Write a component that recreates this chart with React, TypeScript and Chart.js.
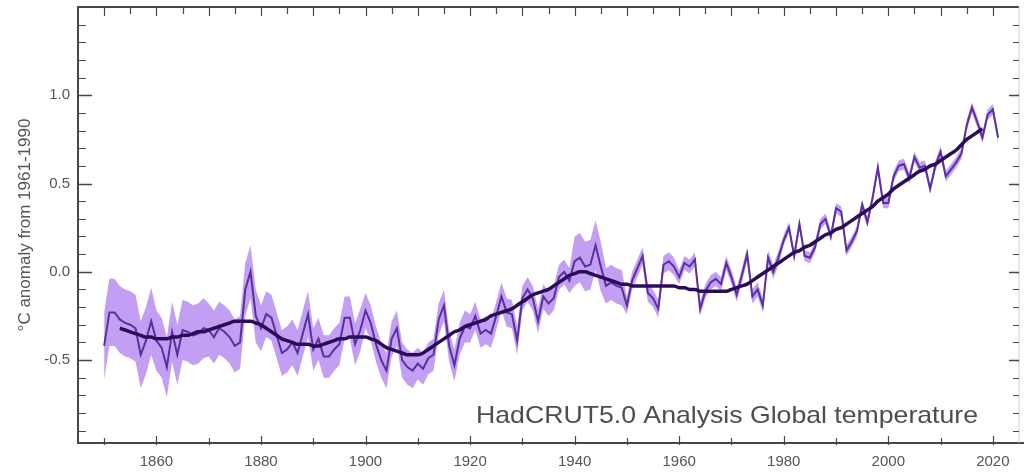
import React, { useEffect, useRef } from 'react';
import { Chart, registerables } from 'chart.js';

Chart.register(...registerables);

const FIRST_YEAR = 1850;
const SMOOTH_FIRST_YEAR = 1853;

// Annual global mean anomaly (°C, vs 1961-1990), 1850..2021
const annual = [
  -0.42, -0.23, -0.23, -0.27, -0.29, -0.30, -0.32, -0.47, -0.39, -0.28,
  -0.39, -0.43, -0.54, -0.34, -0.47, -0.33, -0.34, -0.36, -0.35, -0.32,
  -0.33, -0.37, -0.32, -0.34, -0.37, -0.42, -0.40, -0.10, 0.00, -0.25,
  -0.32, -0.24, -0.26, -0.36, -0.46, -0.44, -0.40, -0.46, -0.35, -0.24,
  -0.44, -0.38, -0.48, -0.48, -0.44, -0.41, -0.26, -0.26, -0.41, -0.33,
  -0.22, -0.29, -0.41, -0.50, -0.56, -0.38, -0.32, -0.50, -0.54, -0.56,
  -0.52, -0.55, -0.49, -0.47, -0.27, -0.19, -0.42, -0.53, -0.38, -0.31,
  -0.32, -0.25, -0.35, -0.33, -0.35, -0.25, -0.14, -0.23, -0.24, -0.39,
  -0.15, -0.10, -0.15, -0.28, -0.14, -0.18, -0.15, -0.03, 0.00, -0.05,
  0.06, 0.08, 0.03, 0.04, 0.15, 0.03, -0.08, -0.06, -0.08, -0.09,
  -0.19, -0.05, 0.02, 0.09, -0.12, -0.15, -0.21, 0.04, 0.06, 0.03,
  -0.03, 0.05, 0.03, 0.07, -0.21, -0.11, -0.06, -0.04, -0.07, 0.05,
  -0.03, -0.13, -0.02, 0.10, -0.14, -0.10, -0.19, 0.08, 0.00, 0.08,
  0.18, 0.25, 0.09, 0.27, 0.09, 0.08, 0.14, 0.27, 0.30, 0.20,
  0.36, 0.34, 0.12, 0.17, 0.23, 0.38, 0.28, 0.42, 0.59, 0.39,
  0.39, 0.54, 0.60, 0.61, 0.53, 0.65, 0.59, 0.60, 0.47, 0.60,
  0.68, 0.54, 0.58, 0.62, 0.67, 0.83, 0.93, 0.85, 0.76, 0.89,
  0.92, 0.76,
];

// Lower edge of the uncertainty band, 1850..2021
const lower = [
  -0.61, -0.42, -0.42, -0.46, -0.48, -0.49, -0.51, -0.66, -0.58, -0.47,
  -0.56, -0.60, -0.71, -0.51, -0.64, -0.50, -0.51, -0.53, -0.52, -0.49,
  -0.48, -0.52, -0.47, -0.49, -0.52, -0.57, -0.55, -0.25, -0.15, -0.40,
  -0.45, -0.37, -0.39, -0.49, -0.59, -0.57, -0.53, -0.59, -0.48, -0.37,
  -0.56, -0.50, -0.60, -0.60, -0.56, -0.53, -0.38, -0.38, -0.53, -0.45,
  -0.32, -0.39, -0.51, -0.60, -0.66, -0.48, -0.42, -0.60, -0.64, -0.66,
  -0.61, -0.64, -0.58, -0.56, -0.36, -0.28, -0.51, -0.62, -0.47, -0.40,
  -0.40, -0.33, -0.43, -0.41, -0.43, -0.33, -0.22, -0.31, -0.32, -0.47,
  -0.22, -0.17, -0.22, -0.35, -0.21, -0.25, -0.22, -0.10, -0.07, -0.12,
  -0.08, -0.06, -0.11, -0.10, 0.01, -0.11, -0.18, -0.16, -0.18, -0.19,
  -0.24, -0.10, -0.03, 0.04, -0.17, -0.20, -0.26, -0.01, 0.01, -0.02,
  -0.07, 0.01, -0.01, 0.03, -0.25, -0.15, -0.10, -0.08, -0.11, 0.01,
  -0.07, -0.17, -0.06, 0.06, -0.18, -0.14, -0.23, 0.04, -0.04, 0.04,
  0.15, 0.22, 0.06, 0.24, 0.06, 0.05, 0.11, 0.24, 0.27, 0.17,
  0.33, 0.31, 0.09, 0.14, 0.20, 0.35, 0.25, 0.39, 0.56, 0.36,
  0.36, 0.51, 0.57, 0.58, 0.50, 0.62, 0.56, 0.57, 0.44, 0.57,
  0.65, 0.51, 0.55, 0.59, 0.64, 0.80, 0.90, 0.82, 0.73, 0.86,
  0.89, 0.73,
];

// Upper edge of the uncertainty band, 1850..2021
const upper = [
  -0.23, -0.04, -0.04, -0.08, -0.10, -0.11, -0.13, -0.28, -0.20, -0.09,
  -0.22, -0.26, -0.37, -0.17, -0.30, -0.16, -0.17, -0.19, -0.18, -0.15,
  -0.18, -0.22, -0.17, -0.19, -0.22, -0.27, -0.25, 0.05, 0.15, -0.10,
  -0.19, -0.11, -0.13, -0.23, -0.33, -0.31, -0.27, -0.33, -0.22, -0.11,
  -0.32, -0.26, -0.36, -0.36, -0.32, -0.29, -0.14, -0.14, -0.29, -0.21,
  -0.12, -0.19, -0.31, -0.40, -0.46, -0.28, -0.22, -0.40, -0.44, -0.46,
  -0.43, -0.46, -0.40, -0.38, -0.18, -0.10, -0.33, -0.44, -0.29, -0.22,
  -0.24, -0.17, -0.27, -0.25, -0.27, -0.17, -0.06, -0.15, -0.16, -0.31,
  -0.08, -0.03, -0.08, -0.21, -0.07, -0.11, -0.08, 0.04, 0.07, 0.02,
  0.20, 0.22, 0.17, 0.18, 0.29, 0.17, 0.02, 0.04, 0.02, 0.01,
  -0.14, 0.00, 0.07, 0.14, -0.07, -0.10, -0.16, 0.09, 0.11, 0.08,
  0.01, 0.09, 0.07, 0.11, -0.17, -0.07, -0.02, 0.00, -0.03, 0.09,
  0.01, -0.09, 0.02, 0.14, -0.10, -0.06, -0.15, 0.12, 0.04, 0.12,
  0.21, 0.28, 0.12, 0.30, 0.12, 0.11, 0.17, 0.30, 0.33, 0.23,
  0.39, 0.37, 0.15, 0.20, 0.26, 0.41, 0.31, 0.45, 0.62, 0.42,
  0.42, 0.57, 0.63, 0.64, 0.56, 0.68, 0.62, 0.63, 0.50, 0.63,
  0.71, 0.57, 0.61, 0.65, 0.70, 0.86, 0.96, 0.88, 0.79, 0.92,
  0.95, 0.79,
];

// Smoothed series, 1853..2018
const smoothed = [
  -0.32, -0.33, -0.34, -0.35, -0.36, -0.37, -0.37,
  -0.38, -0.38, -0.38, -0.37, -0.37, -0.36, -0.36, -0.35, -0.34, -0.34,
  -0.33, -0.32, -0.31, -0.30, -0.29, -0.28, -0.28, -0.28, -0.28, -0.29,
  -0.30, -0.32, -0.34, -0.36, -0.38, -0.39, -0.40, -0.41, -0.41, -0.41,
  -0.42, -0.42, -0.41, -0.40, -0.39, -0.38, -0.38, -0.37, -0.37, -0.37,
  -0.37, -0.38, -0.39, -0.41, -0.43, -0.44, -0.45, -0.46, -0.47, -0.47,
  -0.47, -0.46, -0.44, -0.42, -0.40, -0.38, -0.36, -0.34, -0.33, -0.31,
  -0.30, -0.29, -0.28, -0.27, -0.25, -0.24, -0.23, -0.22, -0.21, -0.19,
  -0.17, -0.15, -0.13, -0.12, -0.11, -0.10, -0.08, -0.06, -0.04, -0.02,
  -0.01, 0.00, 0.00, -0.01, -0.02, -0.03, -0.04, -0.05, -0.06, -0.07,
  -0.07, -0.08, -0.08, -0.08, -0.08, -0.08, -0.08, -0.08, -0.08, -0.08,
  -0.09, -0.09, -0.10, -0.10, -0.11, -0.11, -0.11, -0.11, -0.11, -0.11,
  -0.10, -0.09, -0.08, -0.07, -0.05, -0.03, -0.01, 0.01, 0.03, 0.05,
  0.07, 0.09, 0.11, 0.12, 0.14, 0.15, 0.17, 0.19, 0.21, 0.22,
  0.24, 0.25, 0.27, 0.29, 0.31, 0.33, 0.35, 0.37, 0.40, 0.42,
  0.44, 0.47, 0.49, 0.51, 0.53, 0.55, 0.57, 0.58, 0.60, 0.61,
  0.63, 0.65, 0.67, 0.69, 0.72, 0.75, 0.77, 0.79, 0.81,
];

const xTickLabels = [1860, 1880, 1900, 1920, 1940, 1960, 1980, 2000, 2020];
const yTickLabels = [-0.5, 0.0, 0.5, 1.0];
const yAxisTitle = '°C anomaly from 1961-1990';
const chartCaption = 'HadCRUT5.0 Analysis Global temperature';

const X_MIN = 1845;
const X_MAX = 2025;
const Y_MIN = -0.97;
const Y_MAX = 1.5;

const AXIS_COLOR = '#474747';
const TEXT_COLOR = '#555555';
const FONT = '"Liberation Sans", Arial, sans-serif';

const framePlugin = {
  id: 'frameTicks',
  afterDraw(chart: any) {
    const { ctx, chartArea: a, scales } = chart;
    const x = scales.x;
    const y = scales.y;
    ctx.save();
    // frame
    ctx.strokeStyle = AXIS_COLOR;
    ctx.lineWidth = 2;
    ctx.beginPath();
    ctx.moveTo(a.right, a.top);
    ctx.lineTo(a.left, a.top);
    ctx.lineTo(a.left, a.bottom);
    ctx.lineTo(a.right + 6, a.bottom);
    ctx.stroke();
    ctx.strokeStyle = '#d0d0d0';
    ctx.lineWidth = 1;
    ctx.beginPath();
    ctx.moveTo(a.right, a.top);
    ctx.lineTo(a.right, a.bottom);
    ctx.stroke();

    // y ticks (left & right), every 0.1, longer every 0.5
    ctx.strokeStyle = AXIS_COLOR;
    for (let k = -9; k <= 14; k++) {
      const py = Math.round(y.getPixelForValue(k / 10)) + 0.5;
      const major = k % 5 === 0;
      ctx.lineWidth = major ? 1.5 : 1.2;
      ctx.beginPath();
      ctx.moveTo(a.left, py);
      ctx.lineTo(a.left + (major ? 14 : 8), py);
      ctx.moveTo(a.right, py);
      ctx.lineTo(a.right - (major ? 10 : 6), py);
      ctx.stroke();
    }
    // x ticks bottom every 10 years, top every 5 years
    ctx.lineWidth = 1.2;
    for (let yr = 1850; yr <= 2020; yr += 5) {
      const px = Math.round(x.getPixelForValue(yr)) + 0.5;
      ctx.beginPath();
      ctx.moveTo(px, a.top);
      ctx.lineTo(px, a.top + (yr % 10 === 0 ? 9 : 7));
      if (yr % 10 === 0) {
        ctx.moveTo(px, a.bottom + 2);
        ctx.lineTo(px, a.bottom - (yr % 20 === 0 ? 7 : 5));
      }
      ctx.stroke();
    }

    // caption
    ctx.fillStyle = '#4d4d4d';
    ctx.font = `24px ${FONT}`;
    ctx.textAlign = 'right';
    ctx.textBaseline = 'alphabetic';
    ctx.translate(978, 423);
    ctx.scale(1.11, 1);
    ctx.fillText(chartCaption, 0, 0);
    ctx.restore();
  },
};

export default function App() {
  const canvasRef = useRef<HTMLCanvasElement | null>(null);

  useEffect(() => {
    if (!canvasRef.current) return;
    const years = annual.map((_, i) => FIRST_YEAR + i);
    const pts = (arr: number[], start: number) => arr.map((v, i) => ({ x: start + i, y: v }));

    const chart = new Chart(canvasRef.current, {
      type: 'line',
      data: {
        datasets: [
          {
            label: 'lower',
            data: pts(lower, FIRST_YEAR),
            borderWidth: 0,
            pointRadius: 0,
            fill: false,
            order: 3,
          },
          {
            label: 'uncertainty',
            data: pts(upper, FIRST_YEAR),
            borderWidth: 0,
            pointRadius: 0,
            backgroundColor: 'rgba(172, 122, 240, 0.72)',
            fill: '-1',
            order: 2,
          },
          {
            label: 'annual',
            data: years.map((yr, i) => ({ x: yr, y: annual[i] })),
            borderColor: '#5b2f9e',
            borderWidth: 2,
            pointRadius: 0,
            tension: 0,
            fill: false,
            order: 1,
          },
          {
            label: 'smoothed',
            data: pts(smoothed, SMOOTH_FIRST_YEAR),
            borderColor: '#2b0c58',
            borderWidth: 3.5,
            pointRadius: 0,
            tension: 0.4,
            cubicInterpolationMode: 'monotone',
            fill: false,
            order: 0,
          },
        ],
      },
      options: {
        animation: false,
        responsive: true,
        maintainAspectRatio: false,
        layout: { padding: { top: 7, right: 5, left: 0, bottom: 0 } },
        plugins: {
          legend: { display: false },
          tooltip: { enabled: false },
        },
        scales: {
          x: {
            type: 'linear',
            min: X_MIN,
            max: X_MAX,
            grid: { display: false, drawTicks: false },
            border: { display: false },
            afterBuildTicks: (scale: any) => {
              scale.ticks = xTickLabels.map((v) => ({ value: v }));
            },
            afterFit: (scale: any) => {
              scale.height = 32;
              scale.paddingLeft = 0;
              scale.paddingRight = 0;
            },
            ticks: {
              color: TEXT_COLOR,
              font: { family: FONT, size: 15 },
              padding: 10,
              maxRotation: 0,
              autoSkip: false,
              callback: (v: any) => String(v),
            },
          },
          y: {
            type: 'linear',
            min: Y_MIN,
            max: Y_MAX,
            grid: { display: false, drawTicks: false },
            border: { display: false },
            afterBuildTicks: (scale: any) => {
              scale.ticks = yTickLabels.map((v) => ({ value: v }));
            },
            afterFit: (scale: any) => {
              scale.width = 78;
              scale.paddingTop = 0;
              scale.paddingBottom = 0;
            },
            title: {
              display: true,
              text: yAxisTitle,
              color: TEXT_COLOR,
              font: { family: FONT, size: 17 },
              padding: { top: 15, bottom: 0 },
            },
            ticks: {
              color: TEXT_COLOR,
              font: { family: FONT, size: 15 },
              padding: 8,
              callback: (v: any) => Number(v).toFixed(1),
            },
          },
        },
      },
      plugins: [framePlugin],
    } as any);

    return () => chart.destroy();
  }, []);

  return (
    <div style={{ position: 'absolute', left: 0, top: 0, width: 1024, height: 475, background: '#fff' }}>
      <canvas ref={canvasRef} />
    </div>
  );
}
